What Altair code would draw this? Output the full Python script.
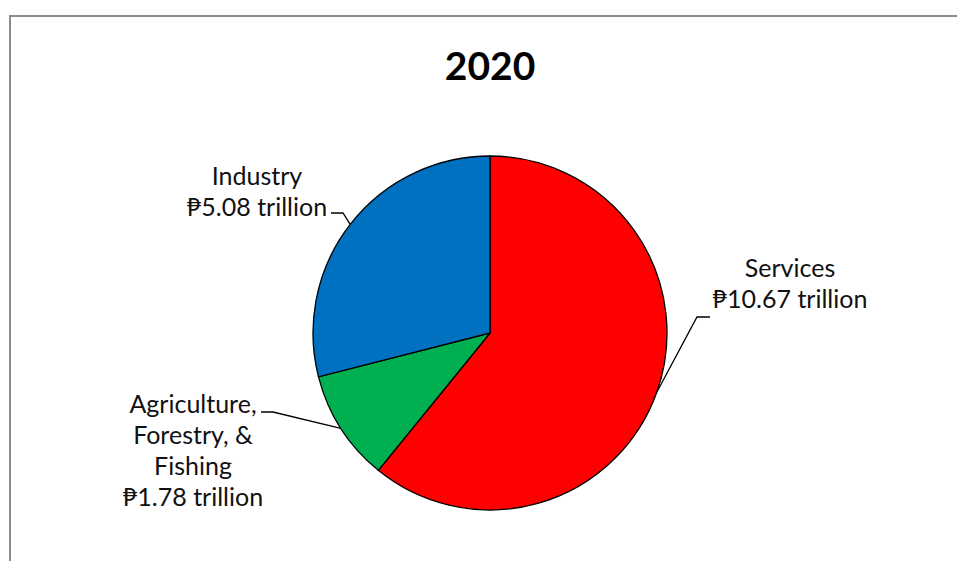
import math
import altair as alt
import pandas as pd

# ---------------- data ----------------
sectors = ["Services", "Agriculture, Forestry, & Fishing", "Industry"]
values = [10.67, 1.78, 5.08]          # trillion pesos
colors = ["#FF0000", "#00B050", "#0070C0"]
label_names = ["Services", "Agriculture,\nForestry, &\nFishing", "Industry"]
title_text = "2020"

# ---------------- layout ----------------
W, H = 957, 561
CX, CY, R = 490, 333, 177
FONT = "Lato"
# label anchor (centre x, first baseline y), leader elbow and leader end
label_pos = {
    "Services": (790, 277),
    "Agriculture, Forestry, & Fishing": (193, 413),
    "Industry": (257, 185),
}
elbow_pos = {
    "Services": ((697, 317), (710, 317)),
    "Agriculture, Forestry, & Fishing": ((273, 412), (261, 412)),
    "Industry": ((343, 213), (331, 213)),
}

base_df = pd.DataFrame({"sector": sectors, "value": values, "order": list(range(len(sectors)))})

total = sum(values)
rows = []
cum = 0.0
for s, v in zip(sectors, values):
    mid = 2 * math.pi * (cum + v / 2) / total
    cum += v
    ax = CX + R * math.sin(mid)
    ay = CY - R * math.cos(mid)
    (ex, ey), (tx, ty) = elbow_pos[s]
    rows += [
        {"sector": s, "pt": 0, "x": ax, "y": ay},
        {"sector": s, "pt": 1, "x": ex, "y": ey},
        {"sector": s, "pt": 2, "x": tx, "y": ty},
    ]
lines_df = pd.DataFrame(rows)

labels_df = pd.DataFrame({
    "sector": sectors,
    "text": [f"{n}\n\u20b1{v:.2f} trillion" for n, v in zip(label_names, values)],
    "x": [label_pos[s][0] for s in sectors],
    "y": [label_pos[s][1] for s in sectors],
})

xs = alt.Scale(domain=[0, W], range=[0, W], zero=False, nice=False)
ys = alt.Scale(domain=[0, H], range=[0, H], zero=False, nice=False)

frame = alt.Chart(pd.DataFrame({"k": [0]})).mark_rect(
    fill="white", stroke="#8c8c8c", strokeWidth=2
).encode(x=alt.value(10), y=alt.value(16), x2=alt.value(W + 50), y2=alt.value(H + 50))

title = alt.Chart(pd.DataFrame({"t": [title_text]})).mark_text(
    font=FONT, fontSize=39, fontWeight="bold", color="black", align="center", baseline="alphabetic"
).encode(x=alt.value(CX), y=alt.value(80), text="t:N")

pie = alt.Chart(base_df).mark_arc(radius=R, stroke="black", strokeWidth=1.3).encode(
    theta=alt.Theta("value:Q", stack=True),
    order=alt.Order("order:Q"),
    color=alt.Color("sector:N", scale=alt.Scale(domain=sectors, range=colors), legend=None),
    x=alt.value(CX),
    y=alt.value(CY),
)

leaders = alt.Chart(lines_df).mark_line(color="black", strokeWidth=1.3).encode(
    x=alt.X("x:Q", scale=xs, axis=None),
    y=alt.Y("y:Q", scale=ys, axis=None),
    detail="sector:N",
    order="pt:Q",
)

labels = alt.Chart(labels_df).mark_text(
    font=FONT, fontSize=25, color="#111111", align="center", baseline="alphabetic",
    lineBreak="\n", lineHeight=31
).encode(
    x=alt.X("x:Q", scale=xs, axis=None),
    y=alt.Y("y:Q", scale=ys, axis=None),
    text="text:N",
)

chart = alt.layer(frame, title, pie, leaders, labels).properties(
    width=W, height=H, autosize=alt.AutoSizeParams(type="none"), padding=0,
    background="white"
).configure_view(stroke=None)

chart.save("out.html", embed_options={"renderer": "svg", "actions": False})
